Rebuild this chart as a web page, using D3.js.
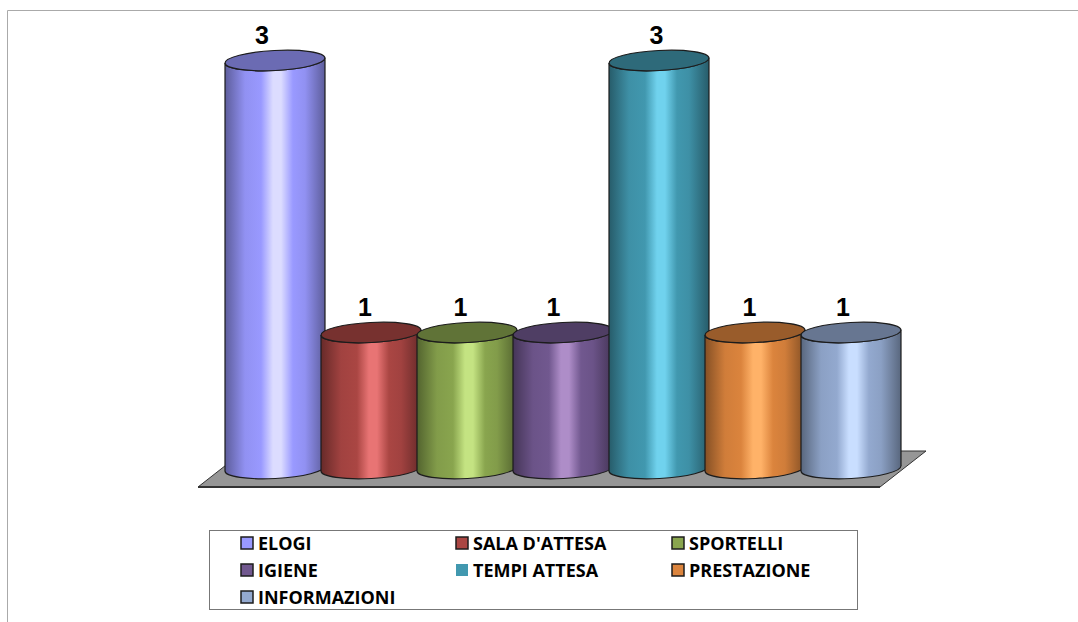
<!DOCTYPE html>
<html>
<head>
<meta charset="utf-8">
<script src="https://cdn.jsdelivr.net/npm/d3@7"></script>
<style>
  html, body { margin: 0; padding: 0; background: #fff; overflow: hidden; }
  svg { display: block; }
</style>
</head>
<body>
<script>
// Complaint counts per category.
var categories = ["ELOGI", "SALA D'ATTESA", "SPORTELLI", "IGIENE", "TEMPI ATTESA", "PRESTAZIONE", "INFORMAZIONI"];
var values = [3, 1, 1, 1, 3, 1, 1];

// Base colour and the brighter stripe down the middle of each cylinder.
var base_colors = ["#9999ff", "#aa4643", "#89a54e", "#71588f", "#4198af", "#db843d", "#93a9cf"];
var shine_colors = ["#dcdcff", "#e87474", "#c4e382", "#ae8dc8", "#70d2ee", "#ffb268", "#c9deff"];

// The labels don't sit quite over the centres in the original.
var label_shift = [-13, -6, -6.5, -9.5, -2.5, -5.5, -8];

var svg_width = 1078;
var svg_height = 622;

var svg = d3.select("body")
    .append("svg")
    .attr("width", svg_width)
    .attr("height", svg_height);

// Outer frame only shows on the top and left.
svg.append("path")
    .attr("d", "M7.5,622V10.5H1078")
    .attr("fill", "none")
    .attr("stroke", "#aaaaaa")
    .attr("stroke-width", 1);

var x_axis = d3.scaleBand()
    .domain(categories)
    .range([227, 899])
    .padding(0);

var y_axis = d3.scaleLinear()
    .domain([0, 3])
    .range([468.5, 60.5]);

var rx = 50;
var ry = 10;
var tilt = -3;
var tilt_dy = rx * Math.sin(tilt * Math.PI / 180);

// The floor under the bars.
svg.append("path")
    .attr("d", "M198,487L244,451H926L880,487Z")
    .attr("fill", "#969696")
    .attr("stroke", "#333333")
    .attr("stroke-width", 1);
svg.append("path")
    .attr("d", "M198,487H880")
    .attr("stroke", "#333333")
    .attr("stroke-width", 2);

// Horizontal shading, one gradient for each cylinder.
var defs = svg.append("defs");
categories.forEach(function(name, i) {
    var base = d3.color(base_colors[i]);
    var gradient = defs.append("linearGradient")
        .attr("id", "shade" + i);
    [
        [0, base.darker(1.4)],
        [0.2, base.darker(0.15)],
        [0.36, base],
        [0.48, shine_colors[i]],
        [0.56, shine_colors[i]],
        [0.68, base],
        [0.8, base.darker(0.15)],
        [1, base.darker(1.4)]
    ].forEach(function(stop) {
        gradient.append("stop")
            .attr("offset", stop[0])
            .attr("stop-color", stop[1]);
    });
});

function centre(name) {
    return x_axis(name) + x_axis.bandwidth() / 2;
}

// Side of the cylinder: down the left, round the front, up the right.
function bodyPath(name, value) {
    var cx = centre(name);
    var top = y_axis(value);
    var bottom = y_axis(0);
    return "M" + (cx - rx) + "," + (top - tilt_dy)
        + "V" + (bottom - tilt_dy)
        + "A" + rx + "," + ry + "," + tilt + ",0,0," + (cx + rx) + "," + (bottom + tilt_dy)
        + "V" + (top + tilt_dy)
        + "A" + rx + "," + ry + "," + tilt + ",0,1," + (cx - rx) + "," + (top - tilt_dy)
        + "Z";
}

// Draw in two runs: inside a run the lids go over the bodies, so a lid's tip
// shows over its neighbour, but the second tall bar still hides the purple lid.
var runs = [[0, 1, 2, 3], [4, 5, 6]];

runs.forEach(function(run) {
    var group = svg.append("g");

    group.selectAll("path")
        .data(run)
        .enter()
        .append("path")
        .attr("d", function(i) { return bodyPath(categories[i], values[i]); })
        .attr("fill", function(i) { return "url(#shade" + i + ")"; })
        .attr("stroke", "#1c1c1c")
        .attr("stroke-width", 1.2);

    group.selectAll("ellipse")
        .data(run)
        .enter()
        .append("ellipse")
        .attr("cx", function(i) { return centre(categories[i]); })
        .attr("cy", function(i) { return y_axis(values[i]); })
        .attr("rx", rx)
        .attr("ry", ry)
        .attr("transform", function(i) {
            return "rotate(" + tilt + "," + centre(categories[i]) + "," + y_axis(values[i]) + ")";
        })
        .attr("fill", function(i) { return d3.color(base_colors[i]).darker(1); })
        .attr("stroke", "#1c1c1c")
        .attr("stroke-width", 1.2);
});

svg.append("g")
    .selectAll("text")
    .data(categories)
    .enter()
    .append("text")
    .attr("x", function(d, i) { return centre(d) + label_shift[i]; })
    .attr("y", function(d, i) { return y_axis(values[i]) - 17; })
    .attr("text-anchor", "middle")
    .attr("font-family", "'Liberation Sans', Arial, sans-serif")
    .attr("font-weight", "bold")
    .attr("font-size", "25px")
    .attr("fill", "#000")
    .text(function(d, i) { return values[i]; });

// Legend box with three columns.
var legend_x = [241, 456, 672];
var legend_y = [537, 564, 591];

svg.append("rect")
    .attr("x", 209.5)
    .attr("y", 530.5)
    .attr("width", 648)
    .attr("height", 79)
    .attr("fill", "#fff")
    .attr("stroke", "#777777");

var legend = svg.append("g")
    .selectAll("g")
    .data(categories)
    .enter()
    .append("g")
    .attr("transform", function(d, i) {
        return "translate(" + legend_x[i % 3] + "," + legend_y[Math.floor(i / 3)] + ")";
    });

legend.append("rect")
    .attr("width", 12)
    .attr("height", 12)
    .attr("fill", function(d, i) { return base_colors[i]; })
    .attr("stroke", function(d, i) { return i == 4 ? "none" : "#1c1c1c"; })
    .attr("stroke-width", 1.5);

legend.append("text")
    .attr("x", 17)
    .attr("y", 13)
    .attr("font-family", "'Open Sans', sans-serif")
    .attr("font-weight", "bold")
    .attr("font-size", "18px")
    .attr("fill", "#000")
    .text(function(d) { return d; });
</script>
</body>
</html>
